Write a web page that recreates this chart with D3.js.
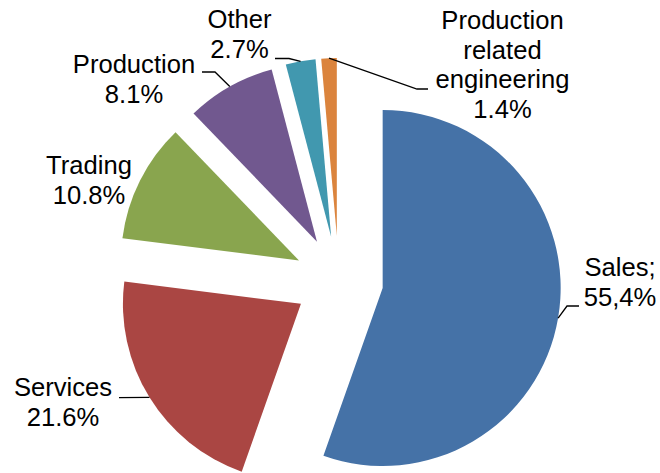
<!DOCTYPE html>
<html>
<head>
<meta charset="utf-8">
<script src="https://cdn.jsdelivr.net/npm/d3@7"></script>
<style>
  html, body { margin: 0; padding: 0; background: #fff; }
  svg { display: block; }
  text { font-family: "Liberation Sans", Arial, sans-serif; font-size: 25.6px; fill: #000; }
</style>
</head>
<body>
<svg id="chart" width="660" height="473"></svg>
<script>
// Share of turnover by activity
const categories = ["Sales", "Services", "Trading", "Production", "Other", "Production related engineering"];
const shares = [55.4, 21.6, 10.8, 8.1, 2.7, 1.4];
const nameLines = [["Sales;"], ["Services"], ["Trading"], ["Production"], ["Other"], ["Production", "related", "engineering"]];
const decimalMarks = [",", ".", ".", ".", ".", "."];
const colors = ["#4572A7", "#AA4643", "#89A54E", "#71588F", "#4198AF", "#DB843D"];

// Layout of the pie and its labels
const cx = 338.8, cy = 280.5, radius = 178, explode = 44.5;
const lineHeight = 29.5;
// label block: centre x, first baseline y, optional leader elbow points (from label side)
const labelLayout = [
  { x: 620, y: 276, leader: [[579, 306], [567, 306]] },
  { x: 63, y: 396, leader: [[119, 397.6]] },
  { x: 89, y: 174, leader: null },
  { x: 134, y: 73, leader: [[202, 72], [215, 72]] },
  { x: 239.5, y: 28, leader: [[275, 58.5], [289, 58.5]] },
  { x: 502.5, y: 29, leader: [[428, 89], [417, 89]] }
];

const svg = d3.select("#chart");
const g = svg.append("g").attr("transform", `translate(${cx},${cy})`);

const pie = d3.pie().sort(null).value(d => d.value).startAngle(0).endAngle(2 * Math.PI);
const arc = d3.arc().innerRadius(0).outerRadius(radius);

const data = categories.map((c, i) => ({ name: c, value: shares[i], i }));
const arcs = pie(data);

const offsetOf = a => {
  const mid = (a.startAngle + a.endAngle) / 2;
  return [Math.sin(mid) * explode, -Math.cos(mid) * explode];
};

g.selectAll("path.slice")
  .data(arcs)
  .join("path")
  .attr("class", "slice")
  .attr("d", arc)
  .attr("fill", d => colors[d.data.i])
  .attr("transform", d => { const [dx, dy] = offsetOf(d); return `translate(${dx},${dy})`; });

// Leader lines from the middle of each slice's outer arc to its label
arcs.forEach(a => {
  const lay = labelLayout[a.data.i];
  if (!lay.leader) return;
  const mid = (a.startAngle + a.endAngle) / 2;
  const [dx, dy] = offsetOf(a);
  const px = cx + dx + Math.sin(mid) * radius;
  const py = cy + dy - Math.cos(mid) * radius;
  const pts = lay.leader.concat([[px, py]]);
  svg.append("path")
    .attr("d", d3.line()(pts))
    .attr("fill", "none")
    .attr("stroke", "#000")
    .attr("stroke-width", 1.3);
});

// Labels: category name lines plus the share
arcs.forEach(a => {
  const i = a.data.i;
  const lay = labelLayout[i];
  const valueText = a.data.value.toFixed(1).replace(".", decimalMarks[i]) + "%";
  const lines = nameLines[i].concat([valueText]);
  const t = svg.append("text").attr("text-anchor", "middle");
  lines.forEach((ln, k) => {
    t.append("tspan").attr("x", lay.x).attr("y", lay.y + k * lineHeight).text(ln);
  });
});
</script>
</body>
</html>
